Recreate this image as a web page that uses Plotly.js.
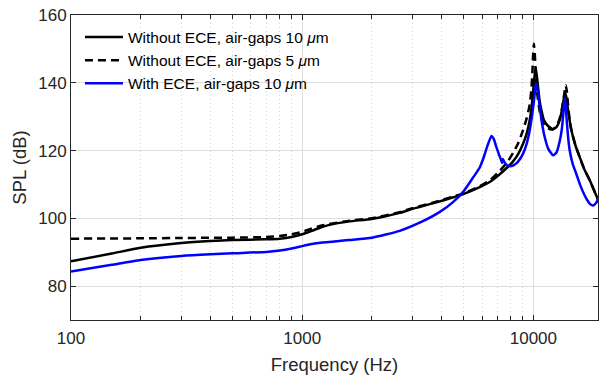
<!DOCTYPE html>
<html>
<head>
<meta charset="utf-8">
<script src="https://cdn.plot.ly/plotly-3.0.1.min.js"></script>
<style>html,body{margin:0;padding:0;background:#fff;}#chart{width:600px;height:381px;}</style>
</head>
<body>
<div id="chart"></div>
<script>
// Without ECE, air-gaps 10 um
const freqA = [100,150,200,300,400,500,700,800,900,1000,1100,1200,1300,1600,2000,2640,3000,3670,4500,5000,5860,6500,7150,7700,8170,8600,9020,9350,9640,9850,9960,10100,10230,10350,10470,10650,10830,11100,11380,11800,12160,12600,13000,13250,13440,13600,13750,13900,14120,14350,14600,15200,15850,16600,17510,18500,19350];
const splA  = [87.3,89.6,91.3,92.7,93.3,93.6,93.8,94.0,94.5,95.3,96.3,97.3,98.0,99.1,99.8,101.6,102.8,104.4,106.2,107.2,109.2,110.8,113.0,115.0,116.8,119.0,122.0,125.0,129.0,133.5,137.0,141.5,144.5,142.0,138.8,134.5,131.9,129.0,127.8,126.8,126.3,127.0,129.0,131.5,134.0,136.0,137.0,135.5,132.0,128.8,126.0,121.5,118.1,114.5,111.3,107.5,104.5];
// Without ECE, air-gaps 5 um
const freqB = [100,200,300,500,700,800,900,1000,1100,1200,1300,1600,2000,2640,3000,3670,4500,5000,5860,6500,7150,7700,8170,8600,9020,9350,9640,9800,9900,9960,10050,10150,10250,10400,10650,10900,11380,11800,12160,12600,13000,13300,13550,13800,13950,14120,14350,14600,15200,15850,16600,17510,18500,19350];
const splB  = [94.0,94.1,94.2,94.3,94.5,94.8,95.3,96.0,97.0,97.8,98.3,99.3,100.0,101.8,103.0,104.6,106.4,107.4,109.5,111.3,114.0,116.5,119.3,122.2,126.0,129.5,133.5,138.0,143.0,147.5,151.5,148.0,142.0,136.5,131.5,128.8,127.0,126.3,126.3,127.2,129.5,132.5,136.0,139.3,137.5,133.5,129.0,126.0,121.5,118.1,114.5,111.3,107.5,104.5];
// With ECE, air-gaps 10 um
const freqC = [100,150,200,300,400,500,700,800,900,1000,1100,1200,1600,2000,2640,3220,3940,4490,4967,5480,5860,6060,6300,6580,6750,6910,7100,7270,7330,7380,7450,7600,7890,8170,8440,8750,9020,9350,9640,9850,10030,10200,10300,10420,10650,10900,11190,11600,12160,12600,13000,13250,13440,13550,13650,13800,13970,14150,14350,14800,15350,16000,16950,17600,18100,18700,19350];
const splC  = [84.3,86.3,87.7,88.9,89.4,89.7,90.1,90.5,91.1,91.8,92.4,92.8,93.6,94.3,96.3,98.7,101.9,104.8,107.8,112.0,115.0,117.5,121.0,124.3,123.3,121.1,118.8,117.0,116.3,117.5,116.9,116.0,115.4,115.6,116.2,117.5,119.1,122.0,126.0,130.0,134.0,138.5,139.8,138.0,132.9,128.0,124.0,120.5,118.6,119.5,122.8,126.0,130.0,133.0,135.5,133.0,128.0,123.5,120.1,116.0,113.0,109.5,105.8,104.2,103.8,104.6,106.8];

const names = ['Without ECE, air-gaps 10 <i>\u03bc</i>m','Without ECE, air-gaps 5 <i>\u03bc</i>m','With ECE, air-gaps 10 <i>\u03bc</i>m'];
const xTicks = [100,1000,10000];
const xMinor = [200,300,400,500,600,700,800,900,2000,3000,4000,5000,6000,7000,8000,9000];
const yTicks = [80,100,120,140,160];

const traces = [
  {x: freqA, y: splA, name: names[0], mode:'lines', line:{color:'#000000', width:2.5, shape:'spline', smoothing:0.5}},
  {x: freqB, y: splB, name: names[1], mode:'lines', line:{color:'#000000', width:2.5, dash:'8px,5px', shape:'spline', smoothing:0.5}},
  {x: freqC, y: splC, name: names[2], mode:'lines', line:{color:'#0000ff', width:2.5, shape:'spline', smoothing:0.5}}
];
const font = 'Liberation Sans, Arial, Helvetica, sans-serif';
const layout = {
  width:600, height:381,
  margin:{l:71, r:2, t:15, b:61},
  paper_bgcolor:'#ffffff', plot_bgcolor:'#ffffff',
  font:{family:font, color:'#262626'},
  showlegend:true,
  legend:{x:0.017, y:0.982, xanchor:'left', yanchor:'top', bgcolor:'rgba(255,255,255,0)', borderwidth:0, itemwidth:38, font:{family:font, size:15.5, color:'#000'}, tracegroupgap:0},
  xaxis:{type:'log', range:[2, 2+527/231.2], tickmode:'array', tickvals:xTicks, ticktext:xTicks.map(String),
    ticks:'inside', ticklen:5, tickcolor:'#262626', showline:true, linecolor:'#262626', linewidth:1, mirror:'ticks',
    showgrid:true, gridcolor:'#dedede', gridwidth:1, zeroline:false, ticklabelstandoff:3,
    tickfont:{family:font, size:17, color:'#262626'},
    minor:{tickmode:'array', tickvals:xMinor, ticks:'inside', ticklen:4, tickcolor:'#262626', showgrid:true, gridcolor:'#d8d8d8', griddash:'1px,3px', gridwidth:1},
    title:{text:'Frequency (Hz)', font:{family:font, size:18.5, color:'#262626'}, standoff:10}},
  yaxis:{range:[70,160], tickmode:'array', tickvals:yTicks, ticktext:yTicks.map(String),
    ticks:'inside', ticklen:5, tickcolor:'#262626', showline:true, linecolor:'#262626', linewidth:1, mirror:'ticks',
    showgrid:true, gridcolor:'#dedede', gridwidth:1, zeroline:false,
    tickfont:{family:font, size:17, color:'#262626'},
    title:{text:'SPL (dB)', font:{family:font, size:18.5, color:'#262626'}, standoff:6}}
};
Plotly.newPlot('chart', traces, layout, {staticPlot:true, displayModeBar:false});
</script>
</body>
</html>
